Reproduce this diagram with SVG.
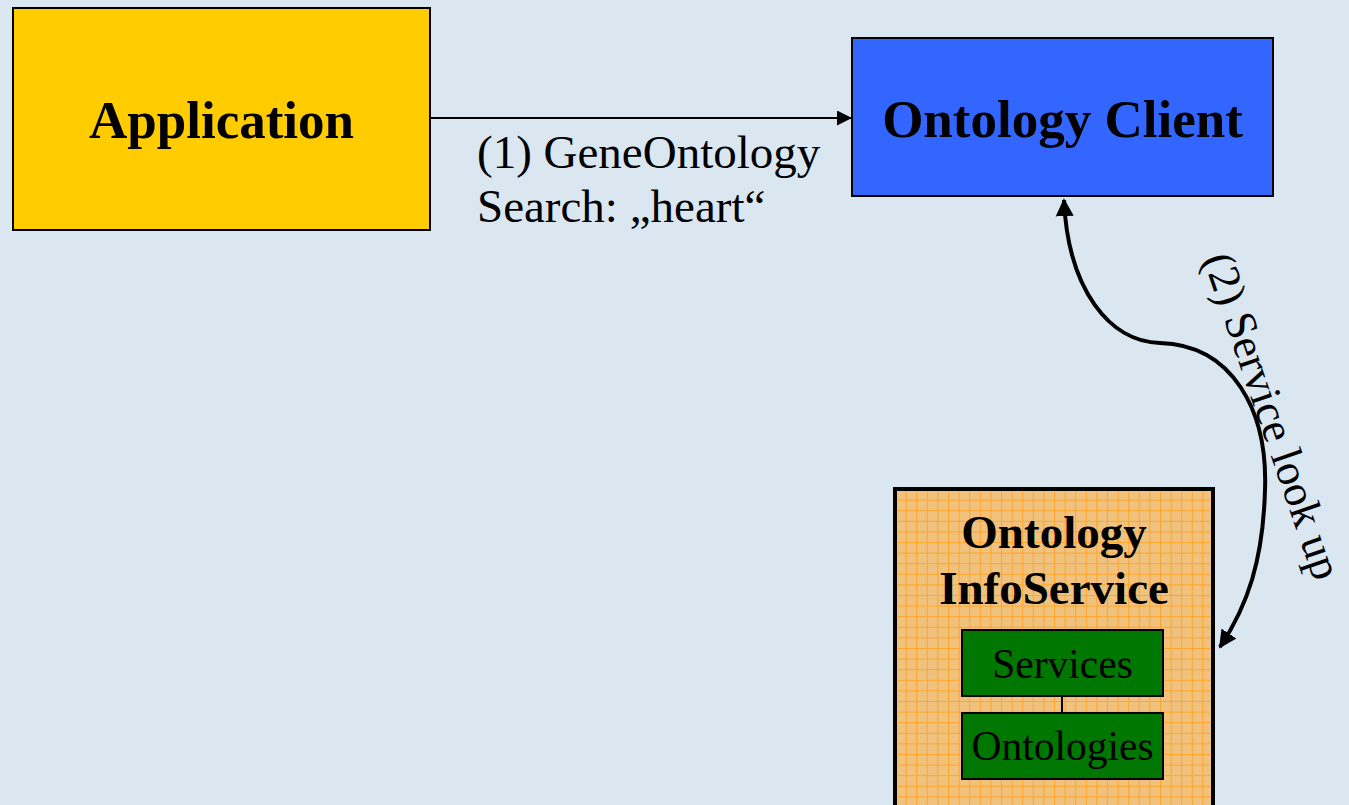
<svg xmlns="http://www.w3.org/2000/svg" width="1349" height="805" viewBox="0 0 1349 805">
<style>
.bold{font-family:"Liberation Serif","Times New Roman",serif;font-weight:bold;fill:#000}
.reg{font-family:"Liberation Serif","Times New Roman",serif;fill:#000}
.box{stroke:#000;stroke-width:2}
</style>
<defs>
<pattern id="grid" x="895" y="489" width="10.6" height="10.6" patternUnits="userSpaceOnUse">
<rect width="10.6" height="10.6" fill="#F0C27E"/>
<path d="M0,0.5H10.6M0.5,0V10.6" stroke="#FFA52A" stroke-width="1"/>
</pattern>
<marker id="ah" viewBox="0 0 10 10" refX="10" refY="5" markerWidth="17" markerHeight="15" markerUnits="userSpaceOnUse" orient="auto">
<path d="M0,0L10,5L0,10Z" fill="#000"/>
</marker>
<marker id="ah2" viewBox="0 0 10 10" refX="9" refY="5" markerWidth="18" markerHeight="19" markerUnits="userSpaceOnUse" orient="auto-start-reverse">
<path d="M0,0L10,5L0,10Z" fill="#000"/>
</marker>
</defs>
<rect width="1349" height="805" fill="#DAE6F0"/>

<g id="connectors">
<line x1="430" y1="118" x2="852" y2="118" stroke="#000" stroke-width="2" marker-end="url(#ah)"/>
<path d="M1064,200 C1068,290 1110,342 1160,343 C1232,345 1268,410 1265,490 C1263,560 1248,605 1220,647" fill="none" stroke="#000" stroke-width="4" marker-start="url(#ah2)" marker-end="url(#ah2)"/>
<text class="reg" font-size="47" x="477" y="168">(1) GeneOntology</text>
<text class="reg" font-size="47" x="477" y="222">Search: „heart“</text>
<text class="reg" font-size="44.5" transform="translate(1203,259) rotate(71)">(2) Service look up</text>
</g>

<g id="application">
<rect class="box" x="13" y="8" width="417" height="222" fill="#FFCC00"/>
<text class="bold" font-size="53" x="221.5" y="138" text-anchor="middle">Application</text>
</g>

<g id="ontology-client">
<rect class="box" x="852" y="38" width="421" height="158" fill="#3366FF"/>
<text class="bold" font-size="53" x="1062.5" y="137" text-anchor="middle">Ontology Client</text>
</g>

<g id="ontology-infoservice">
<rect x="895" y="489" width="318" height="330" fill="url(#grid)" stroke="#000" stroke-width="4"/>
<text class="bold" font-size="47" x="1054" y="548" text-anchor="middle">Ontology</text>
<text class="bold" font-size="47" x="1054" y="604" text-anchor="middle">InfoService</text>
<line x1="1062" y1="696" x2="1062" y2="713" stroke="#000" stroke-width="2"/>
</g>

<g id="services">
<rect class="box" x="962" y="630" width="201" height="66" fill="#007700"/>
<text class="reg" font-size="41.5" x="1062.5" y="678" text-anchor="middle">Services</text>
</g>

<g id="ontologies">
<rect class="box" x="962" y="713" width="201" height="66" fill="#007700"/>
<text class="reg" font-size="41.5" x="1062.5" y="760" text-anchor="middle">Ontologies</text>
</g>
</svg>
